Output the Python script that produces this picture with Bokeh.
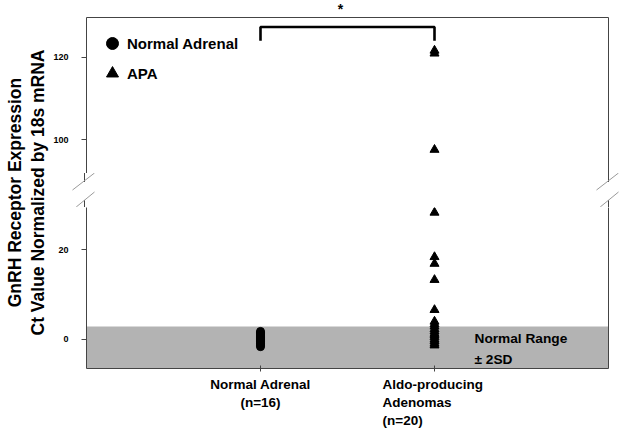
import math
from bokeh.plotting import figure
from bokeh.models import (Label, Legend, LegendItem, LinearAxis, FixedTicker,
                          BoxAnnotation, Div, CustomLabelingPolicy)
from bokeh.layouts import row, column
from bokeh.embed import file_html
from bokeh.resources import INLINE

# ---------------- data ----------------
category_labels = ["Normal Adrenal\n(n=16)", "Aldo-producing\nAdenomas\n(n=20)"]
category_pos = [1, 2]
normal_adrenal = [1.8, 1.5, 1.3, 1.1, 0.9, 0.7, 0.5, 0.3, 0.1, -0.1,
                  -0.3, -0.5, -0.8, -1.0, -1.3, -1.6]
apa = [121.6, 120.9, 97.6, 28.3, 18.4, 16.9, 13.3, 6.6, 4.0, 3.4,
       2.9, 2.3, 1.8, 1.3, 0.9, 0.5, 0.0, -0.4, -0.9, -1.3]
normal_range_upper = 2.9
upper_ticks = [100, 120]
lower_ticks = [0, 20]
upper_range = (91.84, 129.6)
lower_range = (-6.47, 29.43)
x_range = (0, 3)
bracket_top = 127.3
bracket_leg = 124.0

FONT = "Liberation Sans"
AX = "#444444"
SLASH = "#9a9a9a"

# ---------------- layout constants (pixels) ----------------
W_LEFT = 50
MAIN_W = 574
MB_L, MB_R = 35, 16
FRAME_W = MAIN_W - MB_L - MB_R
HEAD_H = 16
TOP_MBT, TOP_FH = 1, 156
TOP_H = TOP_MBT + TOP_FH
GAP_H = 34
BOT_FH, BOT_MBB = 161, 6
BOT_H = BOT_FH + BOT_MBB
STRIP_H = 54
TOTAL_H = HEAD_H + TOP_H + GAP_H + BOT_H + STRIP_H


def no_labels():
    return CustomLabelingPolicy(code="return []")


def border_axis(mid):
    # axis used only as a frame border line (no ticks, no labels drawn)
    return LinearAxis(ticker=FixedTicker(ticks=[mid]), axis_line_color=AX,
                      axis_line_width=1,
                      major_tick_line_color=None, minor_tick_line_color=None,
                      major_tick_in=0, major_tick_out=0,
                      minor_tick_in=0, minor_tick_out=0,
                      major_label_standoff=0, major_label_text_font_size="0px",
                      major_label_policy=no_labels())


def make_fig(h, yr, mbt, mbb, ticks):
    p = figure(width=MAIN_W, height=h, x_range=x_range, y_range=yr,
               output_backend="svg", toolbar_location=None,
               min_border_left=MB_L, min_border_right=MB_R,
               min_border_top=mbt, min_border_bottom=mbb,
               x_axis_type=None)
    p.grid.visible = False
    p.outline_line_color = None
    ya = p.yaxis[0]
    ya.ticker = FixedTicker(ticks=ticks)
    ya.axis_line_color = AX
    ya.major_tick_line_color = AX
    ya.major_tick_in = 0
    ya.major_tick_out = 5
    ya.minor_tick_line_color = None
    ya.major_label_standoff = 13
    ya.major_label_text_font = FONT
    ya.major_label_text_font_style = "bold"
    ya.major_label_text_font_size = "9px"
    ya.major_label_text_color = "black"
    p.add_layout(border_axis((yr[0] + yr[1]) / 2), "right")
    return p


def plain_fig(w, h, xr, yr, **kw):
    p = figure(width=w, height=h, x_range=xr, y_range=yr,
               output_backend="svg", toolbar_location=None,
               x_axis_type=None, y_axis_type=None, **kw)
    p.outline_line_color = None
    p.grid.visible = False
    return p


# ---------------- header (significance star) ----------------
head = plain_fig(MAIN_W, HEAD_H, x_range, (0, HEAD_H),
                 min_border_left=MB_L, min_border_right=MB_R,
                 min_border_top=0, min_border_bottom=0)
head.add_layout(Label(x=(category_pos[0] + category_pos[1]) / 2, x_offset=-7,
                      y=HEAD_H / 2, text="*", text_align="center",
                      text_baseline="middle", text_font=FONT,
                      text_font_style="bold", text_font_size="14px",
                      text_color="black"))

# ---------------- top panel ----------------
top = make_fig(TOP_H, upper_range, TOP_MBT, 0, upper_ticks)
top.add_layout(border_axis((x_range[0] + x_range[1]) / 2), "above")

c_top = top.scatter([category_pos[0]] * len(normal_adrenal), normal_adrenal,
                    marker="circle", size=8, color="black")
t_top = top.scatter([category_pos[1]] * len(apa), apa, marker="triangle",
                    size=9, color="black")
top.line([category_pos[0], category_pos[0], category_pos[1], category_pos[1]],
         [bracket_leg, bracket_top, bracket_top, bracket_leg],
         line_color="black", line_width=2.6)

legend = Legend(items=[LegendItem(label="Normal Adrenal", renderers=[c_top]),
                       LegendItem(label="APA", renderers=[t_top])],
                location="top_left", margin=11, padding=0, spacing=0,
                glyph_width=30, glyph_height=30, label_standoff=0,
                label_text_font=FONT, label_text_font_style="bold",
                label_text_font_size="15px", label_text_color="black",
                border_line_color=None, background_fill_alpha=0)
top.add_layout(legend)

# ---------------- gap (axis-break marks, pure decoration) ----------------
xl, xr_ = MB_L - 0.5, MB_L + FRAME_W + 0.5
parts = []
for xe in (xl, xr_):
    parts.append(f'<line x1="{xe}" y1="0" x2="{xe}" y2="9" stroke="{AX}" stroke-width="1"/>')
    parts.append(f'<line x1="{xe}" y1="27" x2="{xe}" y2="{GAP_H}" stroke="{AX}" stroke-width="1"/>')
    parts.append(f'<line x1="{xe - 12}" y1="17" x2="{xe + 10}" y2="0" stroke="{SLASH}" stroke-width="1"/>')
    parts.append(f'<line x1="{xe - 8.3}" y1="{GAP_H}" x2="{xe + 10}" y2="19" stroke="{SLASH}" stroke-width="1"/>')
gap = Div(text=(f'<svg xmlns="http://www.w3.org/2000/svg" width="{MAIN_W}" '
                f'height="{GAP_H}" style="display:block">' + "".join(parts) + "</svg>"),
          width=MAIN_W, height=GAP_H, margin=0)

# ---------------- bottom panel ----------------
bot = make_fig(BOT_H, lower_range, 0, BOT_MBB, lower_ticks)
bot.add_layout(BoxAnnotation(top=normal_range_upper, fill_color="#b3b3b3",
                             fill_alpha=1, line_color=None, level="underlay"))
bot.scatter([category_pos[0]] * len(normal_adrenal), normal_adrenal,
            marker="circle", size=8, color="black")
bot.scatter([category_pos[1]] * len(apa), apa, marker="triangle",
            size=9, color="black")

xa = LinearAxis(ticker=FixedTicker(ticks=category_pos), axis_line_color=AX,
                major_tick_line_color=AX, major_tick_in=3, major_tick_out=3,
                minor_tick_line_color=None, major_label_standoff=0,
                major_label_text_font_size="0px",
                major_label_policy=no_labels())
bot.add_layout(xa, "below")

bot.add_layout(Label(x=2.23, y=0.29, text="Normal Range", text_align="left",
                     text_baseline="alphabetic", text_font=FONT,
                     text_font_style="bold", text_font_size="13.7px",
                     text_color="black"))
bot.add_layout(Label(x=2.23, y=-4.39, text="\u00b1 2SD", text_align="left",
                     text_baseline="alphabetic", text_font=FONT,
                     text_font_style="bold", text_font_size="13.7px",
                     text_color="black"))

# ---------------- category label strip ----------------
strip = plain_fig(MAIN_W, STRIP_H, x_range, (0, STRIP_H),
                  min_border_left=MB_L, min_border_right=MB_R,
                  min_border_top=0, min_border_bottom=0)
strip.add_layout(Label(x=category_pos[0], y=STRIP_H - 2, text=category_labels[0],
                       text_align="center", text_baseline="top",
                       text_font=FONT, text_font_style="bold",
                       text_font_size="13.5px", text_line_height=1.2,
                       text_color="black"))
strip.add_layout(Label(x=category_pos[1], x_offset=-52, y=STRIP_H - 2,
                       text=category_labels[1],
                       text_align="left", text_baseline="top",
                       text_font=FONT, text_font_style="bold",
                       text_font_size="13.5px", text_line_height=1.2,
                       text_color="black"))

# ---------------- y-axis title panel ----------------
ttl = plain_fig(W_LEFT, TOTAL_H, (0, W_LEFT), (0, TOTAL_H), min_border=0)
ttl.add_layout(Label(x=26, y=TOTAL_H - 192,
                     text="GnRH Receptor Expression\nCt Value Normalized by 18s mRNA",
                     angle=math.pi / 2, text_align="center",
                     text_baseline="middle", text_font=FONT,
                     text_font_style="bold", text_font_size="17.5px",
                     text_line_height=1.15, text_color="black"))

layout = row(ttl, column(head, top, gap, bot, strip))
open("out.html", "w").write(file_html(layout, INLINE))
